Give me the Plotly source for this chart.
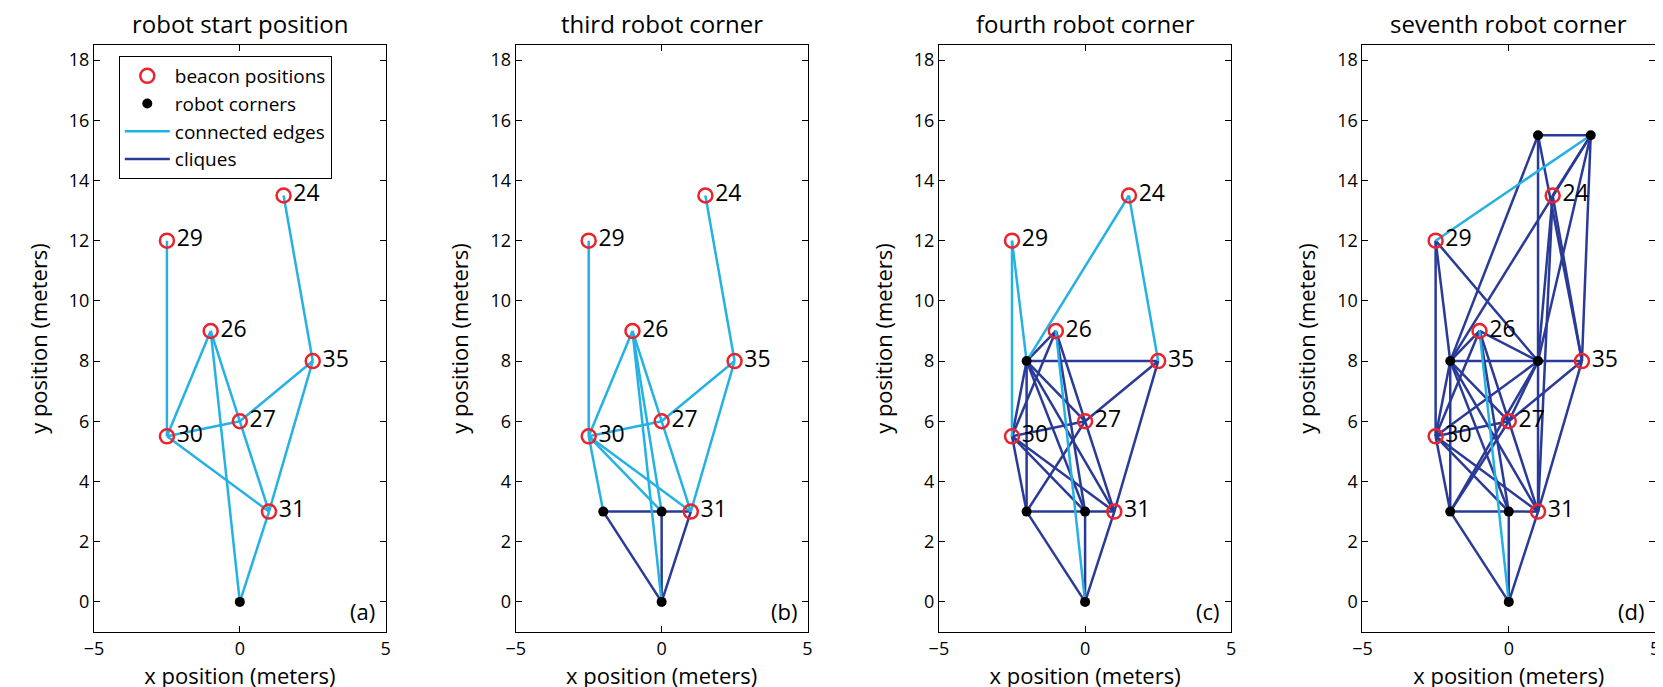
import plotly.graph_objects as go

# ---------------- data ----------------
beacon_ids = ["24", "29", "26", "35", "27", "30", "31"]
beacon_x = [1.5, -2.5, -1.0, 2.5, 0.0, -2.5, 1.0]
beacon_y = [13.5, 12.0, 9.0, 8.0, 6.0, 5.5, 3.0]

corner_ids = ["c1", "c2", "c3", "c4", "c5", "c6", "c7"]
corner_x = [0.0, 0.0, -2.0, -2.0, 1.0, 1.0, 2.8]
corner_y = [0.0, 3.0, 3.0, 8.0, 8.0, 15.5, 15.5]

panel_titles = ["robot start position", "third robot corner",
                "fourth robot corner", "seventh robot corner"]
panel_letters = ["(a)", "(b)", "(c)", "(d)"]
corners_shown = [1, 3, 4, 7]

edges_a = [("24", "35"), ("29", "30"), ("26", "30"), ("26", "31"), ("26", "c1"),
           ("30", "27"), ("27", "35"), ("30", "31"), ("35", "31"), ("31", "c1")]
cliques_a = []

edges_b = [("24", "35"), ("29", "30"), ("26", "30"), ("26", "31"), ("26", "c1"),
           ("26", "c2"), ("30", "27"), ("27", "35"), ("30", "31"), ("35", "31"),
           ("30", "c3"), ("30", "c2")]
cliques_b = [("c3", "c2"), ("c2", "31"), ("c3", "c1"), ("c2", "c1"), ("31", "c1")]

edges_c = [("24", "35"), ("29", "30"), ("29", "c4"), ("24", "c4"), ("26", "c1")]
cliques_c = [("c4", "35"), ("c4", "26"), ("c4", "30"), ("c4", "c3"), ("c4", "27"),
             ("c4", "31"), ("c4", "c2"), ("26", "30"), ("26", "c2"), ("26", "31"),
             ("30", "27"), ("27", "35"), ("35", "31"), ("30", "c3"), ("30", "c2"),
             ("30", "31"), ("c3", "c2"), ("c2", "31"), ("c3", "c1"), ("c2", "c1"),
             ("31", "c1"), ("c3", "27")]

edges_d = [("29", "c7"), ("26", "c1")]
cliques_d = [("c6", "c7"), ("c6", "31"), ("c6", "c4"), ("c6", "35"), ("c7", "c4"),
             ("c7", "24"), ("c7", "c5"), ("c7", "35"), ("24", "c5"), ("24", "35"),
             ("24", "31"), ("29", "30"), ("29", "c4"), ("29", "c5"), ("26", "c4"),
             ("26", "c5"), ("26", "30"), ("26", "31"), ("26", "c2"), ("c4", "c5"),
             ("c5", "35"), ("c4", "30"), ("c4", "c3"), ("c4", "27"), ("c4", "31"),
             ("c4", "c2"), ("c5", "27"), ("c5", "30"), ("c5", "c3"), ("35", "27"),
             ("35", "31"), ("30", "27"), ("30", "31"), ("30", "c2"), ("30", "c3"),
             ("c3", "c2"), ("c2", "31"), ("c3", "c1"), ("c2", "c1"), ("31", "c1"),
             ("c3", "27")]

all_edges = [edges_a, edges_b, edges_c, edges_d]
all_cliques = [cliques_a, cliques_b, cliques_c, cliques_d]

# ---------------- styling ----------------
LIGHT = "#25B1E3"
DARK = "#2A3A97"
RED = "#E8252E"
FONT = "Open Sans"

pos = {}
for i, n in enumerate(beacon_ids):
    pos[n] = (beacon_x[i], beacon_y[i])
for i, n in enumerate(corner_ids):
    pos[n] = (corner_x[i], corner_y[i])


def seg_xy(edges):
    xs, ys = [], []
    for a, b in edges:
        xs += [pos[a][0], pos[b][0], None]
        ys += [pos[a][1], pos[b][1], None]
    return xs, ys


W, H = 1663, 687
px_domains = [(76.7, 371), (502.3, 796.7), (929.3, 1224.3), (1356.7, 1652)]
y_top, y_bot = 37.0, 624.0

fig = go.Figure()
layout = dict(width=W, height=H, margin=dict(l=0, r=0, t=0, b=0),
              plot_bgcolor="white", paper_bgcolor="white",
              font=dict(family=FONT, size=18, color="black"),
              showlegend=True)
annotations = []

for k in range(4):
    ax = "" if k == 0 else str(k + 1)
    xa, ya = "x" + ax, "y" + ax
    dom = [px_domains[k][0] / W, px_domains[k][1] / W]
    ydom = [1 - y_bot / H, 1 - y_top / H]
    common = dict(showgrid=False, zeroline=False, showline=True, linecolor="black",
                  linewidth=1, mirror="ticks", ticks="inside", ticklen=6,
                  tickcolor="black", tickfont=dict(size=18, family=FONT))
    layout["xaxis" + ax] = dict(domain=dom, range=[-5, 5], tickvals=[-5, 0, 5],
                                anchor=ya,
                                title=dict(text="x position (meters)",
                                           font=dict(size=22), standoff=0),
                                **common)
    layout["yaxis" + ax] = dict(domain=ydom, range=[-1, 18.5], dtick=2, tick0=0,
                                anchor=xa,
                                title=dict(text="y position (meters)",
                                           font=dict(size=22), standoff=15),
                                **common)

    first = (k == 0)
    cx, cy = seg_xy(all_cliques[k])
    fig.add_trace(go.Scatter(x=cx if cx else [None], y=cy if cy else [None],
                             mode="lines", line=dict(color=DARK, width=2.5),
                             name="cliques", showlegend=first, legendrank=4,
                             xaxis=xa, yaxis=ya, hoverinfo="skip"))
    ex, ey = seg_xy(all_edges[k])
    fig.add_trace(go.Scatter(x=ex, y=ey, mode="lines",
                             line=dict(color=LIGHT, width=2.5),
                             name="connected edges", showlegend=first, legendrank=3,
                             xaxis=xa, yaxis=ya, hoverinfo="skip"))
    n = corners_shown[k]
    fig.add_trace(go.Scatter(x=corner_x[:n], y=corner_y[:n], mode="markers",
                             marker=dict(symbol="circle", size=10, color="black"),
                             name="robot corners", showlegend=first, legendrank=2,
                             xaxis=xa, yaxis=ya))
    fig.add_trace(go.Scatter(x=beacon_x, y=beacon_y, mode="markers+text",
                             marker=dict(symbol="circle-open", size=14, color=RED,
                                         line=dict(width=2.5, color=RED)),
                             text=beacon_ids, textposition="middle right",
                             textfont=dict(size=23, family=FONT, color="black"),
                             name="beacon positions", showlegend=first, legendrank=1,
                             xaxis=xa, yaxis=ya))
    annotations.append(dict(text=panel_titles[k], xref="x" + ax + " domain",
                            yref="paper", x=0.5, y=1 - 16 / H, yanchor="middle",
                            showarrow=False, font=dict(size=24, family=FONT)))
    annotations.append(dict(text=panel_letters[k], xref="x" + ax + " domain",
                            yref="y" + ax + " domain", x=0.97, y=0.035,
                            xanchor="right", yanchor="middle", showarrow=False,
                            font=dict(size=22, family=FONT)))

layout["annotations"] = annotations
layout["legend"] = dict(x=101.7 / W, y=1 - 48 / H, xanchor="left", yanchor="top",
                        bordercolor="black", borderwidth=1, bgcolor="white",
                        font=dict(size=19, family=FONT), tracegroupgap=0,
                        itemwidth=45)
fig.update_layout(**layout)
fig.write_html("out.html")
